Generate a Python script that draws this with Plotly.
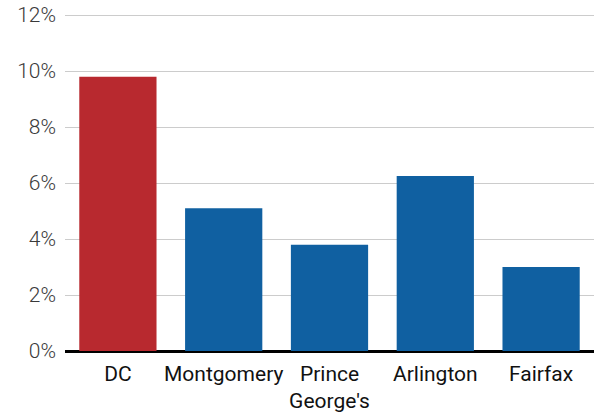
import plotly.graph_objects as go

# Share of residents, by jurisdiction
jurisdictions = ["DC", "Montgomery", "Prince<br>George's", "Arlington", "Fairfax"]
shares = [9.8, 5.1, 3.8, 6.25, 3.0]
bar_colors = ["#B8292F", "#1060A1", "#1060A1", "#1060A1", "#1060A1"]

y_ticks = [0, 2, 4, 6, 8, 10, 12]
y_tick_labels = [f"{v}%" for v in y_ticks]

fig = go.Figure(
    go.Bar(
        x=jurisdictions,
        y=shares,
        marker=dict(color=bar_colors, line=dict(width=0)),
        hoverinfo="skip",
    )
)

fig.update_layout(
    width=595,
    height=415,
    margin=dict(l=65, r=1, t=14, b=64),
    paper_bgcolor="white",
    plot_bgcolor="white",
    bargap=0.27,
    showlegend=False,
    font=dict(family="Roboto", color="#111111"),
)

fig.update_xaxes(
    tickfont=dict(family="Roboto", size=21, color="#111111"),
    tickangle=0,
    automargin=False,
    showgrid=False,
    showline=False,
    ticks="",
    ticklabelstandoff=8,
)

fig.update_yaxes(
    range=[0, 12.04],
    tickvals=y_ticks,
    ticktext=y_tick_labels,
    tickfont=dict(family="Roboto", size=21, color="#3A3A3A", weight=300),
    automargin=False,
    showgrid=True,
    gridcolor="#CCCCCC",
    gridwidth=1,
    zeroline=True,
    zerolinecolor="#000000",
    zerolinewidth=3,
    showline=False,
    ticks="",
    ticklabelstandoff=8,
)

fig.write_html("out.html")
